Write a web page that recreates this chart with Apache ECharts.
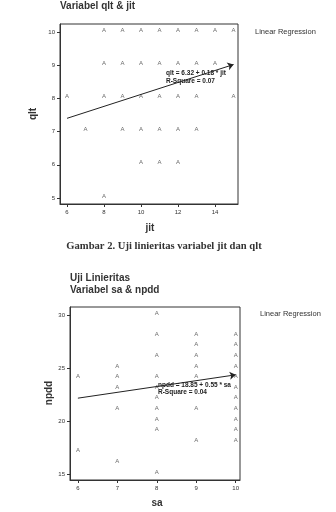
<!DOCTYPE html>
<html>
<head>
<meta charset="utf-8">
<script src="https://cdn.jsdelivr.net/npm/echarts@6/dist/echarts.min.js"></script>
<style>
  html, body { margin: 0; padding: 0; background: #fff; }
  #chart { width: 336px; height: 512px; }
</style>
</head>
<body>
<div id="chart"></div>
<script>
// chart 1: jit vs qlt
const jitX = [8,9,10,11,12,13,14,15, 8,9,10,11,12,13,14, 6,8,9,10,11,12,13,15, 7,9,10,11,12,13, 10,11,12, 8]
const qltY = [10,10,10,10,10,10,10,10, 9,9,9,9,9,9,9, 8,8,8,8,8,8,8,8, 7,7,7,7,7,7, 6,6,6, 5]
const reg1 = [6.32, 0.18]
const reg1Range = [6, 15]
const xTicks1 = [6, 8, 10, 12, 14]
const yTicks1 = [5, 6, 7, 8, 9, 10]

// chart 2: sa vs npdd
const saX = [8, 8,9,10, 9,10, 8,9,10, 7,9,10, 6,7,8,9,10, 7,8,10, 8,10, 7,8,9,10, 8,10, 8,10, 9,10, 6, 7, 8]
const npddY = [30, 28,28,28, 27,27, 26,26,26, 25,25,25, 24,24,24,24,24, 23,23,23, 22,22, 21,21,21,21, 20,20, 19,19, 18,18, 17, 16, 15]
const reg2 = [18.85, 0.55]
const reg2Range = [6, 10]
const xTicks2 = [6, 7, 8, 9, 10]
const yTicks2 = [15, 20, 25, 30]

const pairs = (xs, ys) => xs.map((x, i) => [x, ys[i]])
const regLine = (r, range) => [[
  { coord: [range[0], r[0] + r[1] * range[0]] },
  { coord: [range[1], r[0] + r[1] * range[1]] }
]]

const ink = '#333'
const axisCommon = (ticks) => ({
  type: 'value',
  scale: true,
  splitLine: { show: false },
  axisLine: { show: true, lineStyle: { color: ink, width: 1 } },
  axisTick: { show: true, length: 3, customValues: ticks, lineStyle: { color: ink } },
  axisLabel: { customValues: ticks, fontSize: 6, color: ink, margin: 5, fontFamily: 'Liberation Sans' }
})

const scatterCommon = {
  type: 'scatter',
  symbol: 'circle',
  symbolSize: 0.1,
  itemStyle: { color: 'rgba(0,0,0,0)' },
  label: { show: true, position: 'inside', formatter: 'A', fontSize: 6, color: '#444', offset: [0, -2], fontFamily: 'Liberation Sans' },
  silent: true
}
const markCommon = {
  silent: true,
  symbol: ['none', 'arrow'],
  symbolSize: 6,
  lineStyle: { color: '#222', width: 1, type: 'solid' },
  label: { show: false }
}

const chart = echarts.init(document.getElementById('chart'))
const option = {
  animation: false,
  backgroundColor: '#fff',
  grid: [
    { left: 60, top: 24, width: 178, height: 180, show: true, borderColor: ink, borderWidth: 1 },
    { left: 70, top: 307, width: 170, height: 173, show: true, borderColor: ink, borderWidth: 1 }
  ],
  xAxis: [
    Object.assign(axisCommon(xTicks1), { gridIndex: 0, min: 5.62, max: 15.24 }),
    Object.assign(axisCommon(xTicks2), { gridIndex: 1, min: 5.8, max: 10.11 })
  ],
  yAxis: [
    Object.assign(axisCommon(yTicks1), { gridIndex: 0, min: 4.82, max: 10.24 }),
    Object.assign(axisCommon(yTicks2), { gridIndex: 1, min: 14.43, max: 30.75 })
  ],
  series: [
    Object.assign({}, scatterCommon, {
      xAxisIndex: 0, yAxisIndex: 0,
      data: pairs(jitX, qltY),
      markLine: Object.assign({}, markCommon, { data: regLine(reg1, reg1Range) })
    }),
    Object.assign({}, scatterCommon, {
      xAxisIndex: 1, yAxisIndex: 1,
      data: pairs(saX, npddY),
      markLine: Object.assign({}, markCommon, { data: regLine(reg2, reg2Range) })
    })
  ],
  graphic: [
    // chart 1 texts
    { type: 'text', left: 60, top: 1, style: { text: 'Variabel qlt & jit', font: 'bold 10px "Liberation Sans"', fill: '#333' } },
    { type: 'text', left: 255, top: 28, style: { text: 'Linear Regression', font: '7.5px "Liberation Sans"', fill: '#333' } },
    { type: 'text', left: 166, top: 70, style: { text: 'qlt = 6.32 + 0.18 * jit', font: 'bold 6.5px "Liberation Sans"', fill: '#222' } },
    { type: 'text', left: 166, top: 78, style: { text: 'R-Square = 0.07', font: 'bold 6.5px "Liberation Sans"', fill: '#222' } },
    { type: 'text', x: 33, y: 114, rotation: Math.PI / 2, style: { text: 'qlt', font: 'bold 10px "Liberation Sans"', fill: '#333', align: 'center', verticalAlign: 'middle' } },
    { type: 'text', x: 150, y: 228, style: { text: 'jit', font: 'bold 10px "Liberation Sans"', fill: '#333', align: 'center', verticalAlign: 'middle' } },
    // caption
    { type: 'text', x: 164, y: 246, style: { text: 'Gambar 2. Uji linieritas variabel jit dan qlt', font: 'bold 10.6px "Liberation Serif"', fill: '#333', align: 'center', verticalAlign: 'middle' } },
    // chart 2 texts
    { type: 'text', left: 70, top: 273, style: { text: 'Uji Linieritas', font: 'bold 10px "Liberation Sans"', fill: '#333' } },
    { type: 'text', left: 70, top: 285, style: { text: 'Variabel sa & npdd', font: 'bold 10px "Liberation Sans"', fill: '#333' } },
    { type: 'text', left: 260, top: 310, style: { text: 'Linear Regression', font: '7.5px "Liberation Sans"', fill: '#333' } },
    { type: 'text', left: 158, top: 382, style: { text: 'npdd = 18.85 + 0.55 * sa', font: 'bold 6.5px "Liberation Sans"', fill: '#222' } },
    { type: 'text', left: 158, top: 389, style: { text: 'R-Square = 0.04', font: 'bold 6.5px "Liberation Sans"', fill: '#222' } },
    { type: 'text', x: 49, y: 393, rotation: Math.PI / 2, style: { text: 'npdd', font: 'bold 10px "Liberation Sans"', fill: '#333', align: 'center', verticalAlign: 'middle' } },
    { type: 'text', x: 157, y: 503, style: { text: 'sa', font: 'bold 10px "Liberation Sans"', fill: '#333', align: 'center', verticalAlign: 'middle' } }
  ]
}
chart.setOption(option)
</script>
</body>
</html>
